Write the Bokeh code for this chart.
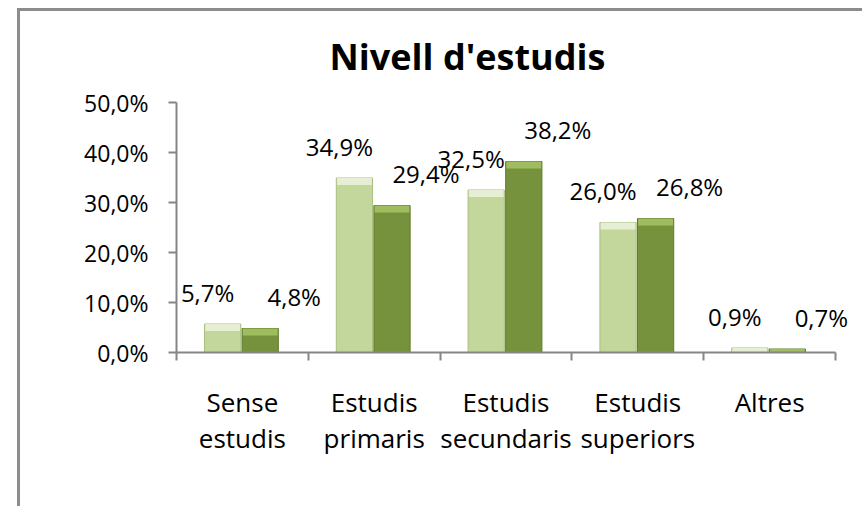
import numpy as np
from bokeh.plotting import figure
from bokeh.models import Range1d, FixedTicker, Label
from bokeh.embed import file_html
from bokeh.resources import INLINE

# ---- data ----
title = "Nivell d'estudis"
categories = ["Sense\nestudis", "Estudis\nprimaris", "Estudis\nsecundaris",
              "Estudis\nsuperiors", "Altres"]
series_a = [5.7, 34.9, 32.5, 26.0, 0.9]   # light green
series_b = [4.8, 29.4, 38.2, 26.8, 0.7]   # dark green
y_ticks = [0, 10, 20, 30, 40, 50]

def pct(v):
    return f"{v:.1f}%".replace(".", ",")

FONT = "Open Sans"
n = len(categories)
idx = np.arange(n)
xa = idx + 0.5 - 0.15
xb = idx + 0.5 + 0.135
W = 0.275

# layout (pixels)
CW, CH = 845, 498
LEFT, BOTTOM = 156, 157
frame_w, frame_h = CW - LEFT, CH - BOTTOM
cat_px = 131.8           # width of one category
val_px = 5.0             # pixels per percentage point

p = figure(width=CW, height=CH, output_backend="svg", toolbar_location=None,
           x_range=Range1d(0, frame_w / cat_px), y_range=Range1d(0, frame_h / val_px),
           min_border_left=LEFT, min_border_right=0,
           min_border_top=0, min_border_bottom=BOTTOM)
p.styles = {"border-top": "3px solid #8c8c8c", "border-left": "3px solid #8c8c8c",
            "margin-left": "17px", "margin-top": "8px"}
p.title = None
p.outline_line_color = None
p.xgrid.visible = False
p.ygrid.visible = False
p.background_fill_color = "white"
p.border_fill_color = "white"

light, light_top, light_edge = "#c3d69b", "#e6efd3", "#a9bf80"
dark, dark_top, dark_edge = "#76923c", "#9fbd5f", "#5f7a2c"

p.vbar(x=xa, top=series_a, width=W, fill_color=light, line_color=light_edge, line_width=1)
p.vbar(x=xb, top=series_b, width=W, fill_color=dark, line_color=dark_edge, line_width=1)
# bevel highlight at the top of each bar
ta = np.array(series_a); tb = np.array(series_b)
p.vbar(x=xa, top=ta, bottom=ta - np.minimum(ta, 1.4), width=W * 0.96,
       fill_color=light_top, line_color=None)
p.vbar(x=xb, top=tb, bottom=tb - np.minimum(tb, 1.4), width=W * 0.96,
       fill_color=dark_top, line_color=None)

# axes
ax = p.yaxis[0]
ax.bounds = (y_ticks[0], y_ticks[-1])
ax.ticker = FixedTicker(ticks=y_ticks)
ax.major_label_overrides = {t: pct(t) for t in y_ticks}
ax.axis_line_color = "#868686"; ax.axis_line_width = 2
ax.major_tick_line_color = "#868686"; ax.major_tick_line_width = 2
ax.major_tick_out = 8; ax.major_tick_in = 0
ax.minor_tick_line_color = None
ax.major_label_standoff = 20
ax.major_label_text_font = FONT
ax.major_label_text_font_size = "23px"
ax.major_label_text_color = "black"

bx = p.xaxis[0]
bx.bounds = (0, n)
centers = list(idx + 0.5)
bx.ticker = FixedTicker(ticks=centers, minor_ticks=list(range(n + 1)))
bx.major_label_overrides = {c: lab for c, lab in zip(centers, categories)}
bx.axis_line_color = "#868686"; bx.axis_line_width = 2
bx.major_tick_line_color = None
bx.minor_tick_line_color = "#868686"; bx.minor_tick_line_width = 2
bx.minor_tick_out = 8; bx.minor_tick_in = 0
bx.major_label_standoff = 23
bx.major_label_text_font = FONT
bx.major_label_text_font_size = "26px"
bx.major_label_text_line_height = 1.0
bx.major_label_text_color = "black"

# value labels
for xs, vals, xo in ((xa, series_a, -15), (xb, series_b, 34)):
    for xv, v in zip(xs, vals):
        p.add_layout(Label(x=float(xv), y=v, text=pct(v), x_offset=xo, y_offset=32,
                           text_align="center", text_baseline="middle",
                           text_font=FONT, text_font_size="24px", text_color="black"))

p.add_layout(Label(x=291, y=296, x_units="screen", y_units="screen", text=title,
                   text_align="center", text_baseline="middle", text_font=FONT,
                   text_font_size="36px", text_font_style="bold", text_color="black"))

open("out.html", "w").write(file_html(p, INLINE))
